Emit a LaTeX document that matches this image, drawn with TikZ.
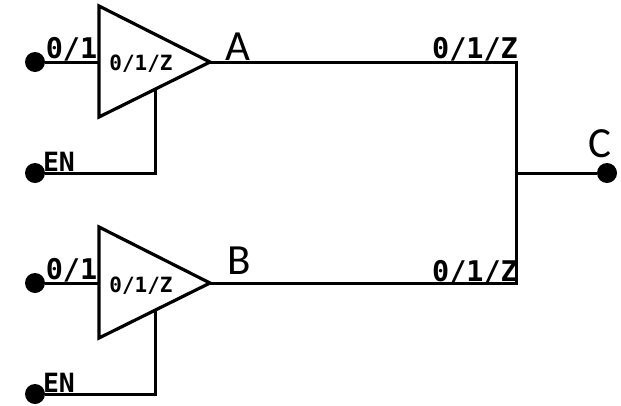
\documentclass[tikz,border=0pt]{standalone}
\usepackage{fontspec}
\setmainfont{Carlito}
\setmonofont{DejaVu Sans Mono}
\begin{document}
\begin{tikzpicture}[x=1pt,y=-1pt,
 wire/.style={line width=3pt,line join=miter},
 tri/.style={line width=3.2pt,line join=miter},
 dotn/.style={circle,fill=black,inner sep=0pt,minimum size=20pt},
 mono/.style={font=\ttfamily\bfseries\fontsize{28.5}{32}\selectfont,inner sep=0pt,anchor=base},
 monos/.style={font=\ttfamily\bfseries\fontsize{21}{24}\selectfont,inner sep=0pt,anchor=base},
 monoe/.style={font=\ttfamily\bfseries\fontsize{26.5}{30}\selectfont,inner sep=0pt,anchor=base},
 big/.style={font=\fontsize{43}{48}\selectfont,inner sep=0pt,anchor=base}]
\useasboundingbox (0,0) rectangle (621,405);
\coordinate (t1) at (99,6); \coordinate (b1) at (99,117); \coordinate (a1) at (210,62);
\coordinate (t2) at (99,227); \coordinate (b2) at (99,338); \coordinate (a2) at (210,283);
\coordinate (i1) at (99,62); \coordinate (i2) at (99,283);
\coordinate (en1) at (155,90); \coordinate (en2) at (155,311);
\coordinate (r1) at (516,62); \coordinate (r2) at (516,283); \coordinate (m) at (516,173);
\draw[tri] (t1) -- (a1) -- (b1) -- cycle;
\draw[tri] (t2) -- (a2) -- (b2) -- cycle;
\node[dotn] (d1) at (35,62) {};
\node[dotn] (e1) at (35,173) {};
\node[dotn] (d2) at (35,283) {};
\node[dotn] (e2) at (35,394) {};
\node[dotn] (c) at (607,173) {};
\draw[wire] (d1) -- (i1);
\draw[wire] (d2) -- (i2);
\draw[wire] (e1) -| (en1);
\draw[wire] (e2) -| (en2);
\draw[wire] (a1) -- (r1) -- (r2) -- (a2);
\draw[wire] (m) -- (c);
\node[mono] (l1) at (71.5,58) {0/1};
\node[mono] (l2) at (71.5,279) {0/1};
\node[monoe] (l3) at (59,171) {EN};
\node[monoe] (l4) at (59,392) {EN};
\node[monos] (l5) at (141,70) {0/1/Z};
\node[monos] (l6) at (141,292) {0/1/Z};
\node[mono] (l7) at (475,58) {0/1/Z};
\node[mono] (l8) at (475,281) {0/1/Z};
\node[big] (A) at (238,60) {A};
\node[big] (B) at (239,274) {B};
\node[big] (C) at (600,157) {C};
\end{tikzpicture}
\end{document}
